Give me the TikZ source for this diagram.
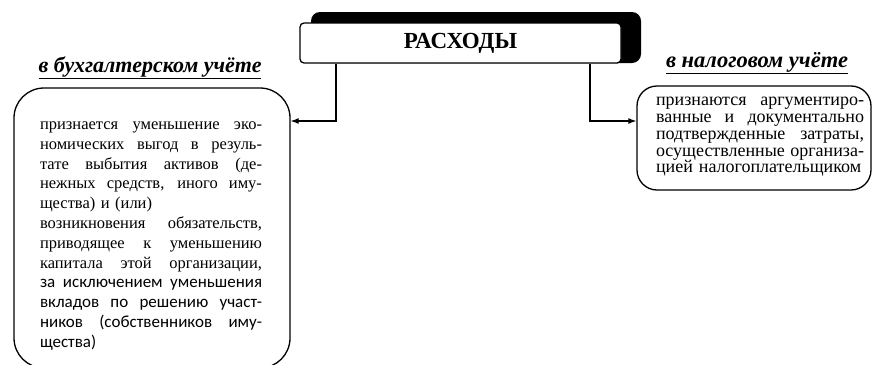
\documentclass[tikz,border=0pt]{standalone}
\usepackage{fontspec}
\setmainfont{Liberation Serif}
\newfontfamily\timesfont{Liberation Serif}
\newfontfamily\calibrifont{Carlito}
\usetikzlibrary{calc, arrows.meta}
\newcommand{\jl}[2][222pt]{\makebox[#1][s]{\spaceskip=0pt\xspaceskip=0pt\relax #2}}

\begin{document}
\begin{tikzpicture}[x=1pt, y=-1pt]
\useasboundingbox (0,0) rectangle (874,364);
\coordinate (T) at (460.5,43);
\coordinate (A) at (152,228);
\coordinate (N) at (754,138);
\coordinate (Aj) at (336,121);
\coordinate (Nj) at (590,121);
\fill[rounded corners=9pt] (311,12) rectangle (641,63);
\node at (T) [name=title, draw, line width=1.3pt, fill=white, rounded corners=4pt, minimum width=321pt, minimum height=40pt, font=\timesfont\fontsize{23}{26}\selectfont\bfseries] {РАСХОДЫ};
\node at (150,68) [name=acchead, font=\timesfont\fontsize{22}{24}\selectfont\bfseries\itshape] {\underline{в бухгалтерском учёте}};
\node at (757,63) [name=taxhead, font=\timesfont\fontsize{22.5}{24}\selectfont\bfseries\itshape] {\underline{в налоговом учёте}};
\node at (A) [name=accbox, draw, line width=1.3pt, rounded corners=30pt, minimum width=276pt, minimum height=280pt] {};
\node at (151,236) [name=acctext, text width=222pt, align=left, inner sep=0pt, font=\timesfont\fontsize{16.5}{19.8}\selectfont] {%
\jl{признается уменьшение эко-}\\
\jl{номических выгод в резуль-}\\
\jl{тате выбытия активов (де-}\\
\jl{нежных средств, иного иму-}\\
щества) и (или)\\
\jl{возникновения обязательств,}\\
\jl{приводящее к уменьшению}\\
\jl{капитала этой организации,}\\
\calibrifont\fontsize{17}{19.8}\selectfont\jl{за исключением уменьшения}\\
\calibrifont\fontsize{17}{19.8}\selectfont\jl{вкладов по решению участ-}\\
\calibrifont\fontsize{17}{19.8}\selectfont\jl{ников (собственников иму-}\\
\calibrifont\fontsize{17}{19.8}\selectfont щества)};
\node at (N) [name=taxbox, draw, line width=1.3pt, rounded corners=20pt, minimum width=234pt, minimum height=104pt] {};
\node at (760,137) [name=taxtext, text width=208pt, align=left, inner sep=0pt, font=\timesfont\fontsize{18}{16.7}\selectfont] {%
\jl[208pt]{признаются аргументиро-}\\
\jl[208pt]{ванные и документально}\\
\jl[208pt]{подтвержденные затраты,}\\
\jl[208pt]{осуществленные организа-}\\
цией налогоплательщиком};
\draw[line width=1.2pt, -{Latex[length=8pt,width=6pt]}] (title.south -| Aj) -- (Aj) -- (Aj -| accbox.east);
\draw[line width=1.2pt, -{Latex[length=8pt,width=6pt]}] (title.south -| Nj) -- (Nj) -- (Nj -| taxbox.west);
\end{tikzpicture}
\end{document}
